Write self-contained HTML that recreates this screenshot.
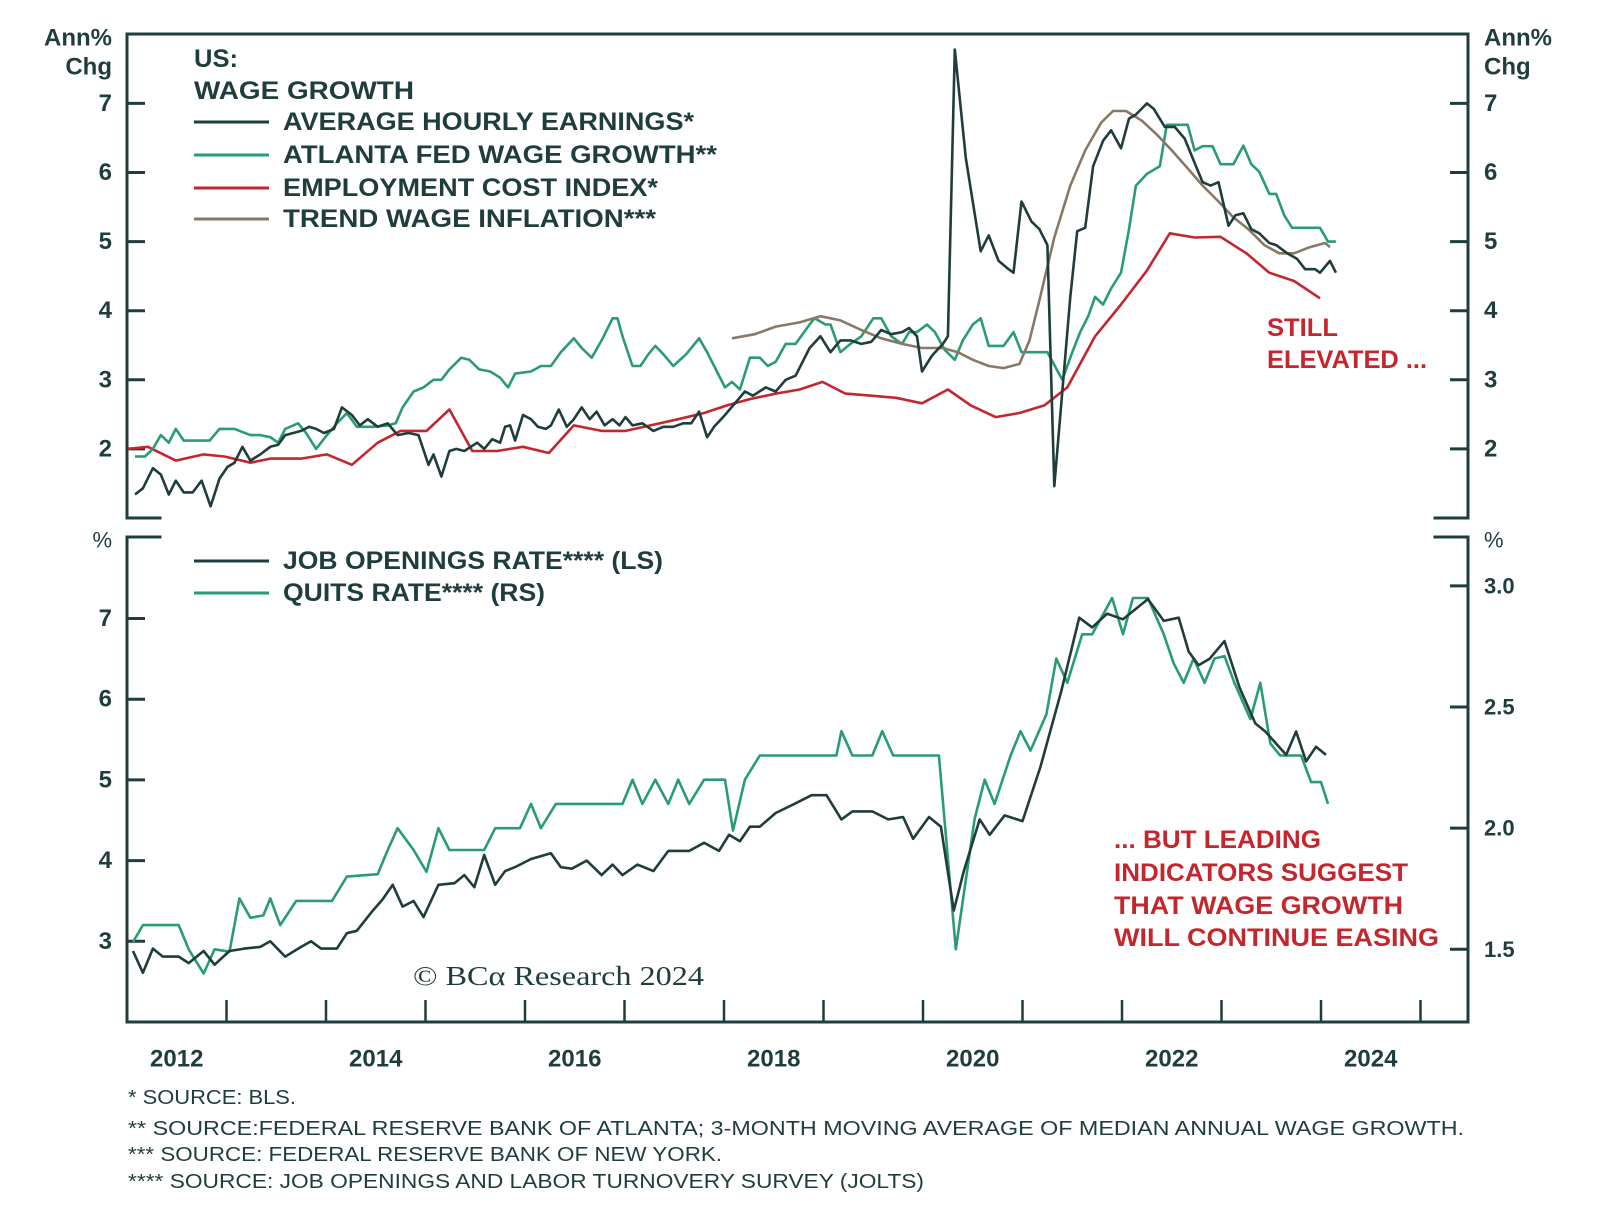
<!DOCTYPE html>
<html>
<head>
<meta charset="utf-8">
<style>
  html,body{margin:0;padding:0;background:#fff;}
  svg{display:block;}
  text{font-family:"Liberation Sans",sans-serif;fill:#1f3d3c;}
</style>
</head>
<body>
<svg id="chart" width="1600" height="1228" viewBox="0 0 1600 1228" xmlns="http://www.w3.org/2000/svg">
  <g id="axes"></g>
  <g id="series"></g>
  <g id="labels"></g>
</svg>
<script>
// ---------- DATA ----------
const ahePts = [[2012.08,1.34],[2012.16,1.43],[2012.26,1.72],[2012.34,1.63],[2012.42,1.34],[2012.49,1.54],[2012.57,1.37],[2012.66,1.37],[2012.75,1.54],[2012.84,1.17],[2012.93,1.57],[2013.01,1.74],[2013.08,1.80],[2013.16,2.03],[2013.24,1.83],[2013.34,1.92],[2013.44,2.03],[2013.52,2.06],[2013.59,2.20],[2013.67,2.23],[2013.75,2.26],[2013.83,2.32],[2013.90,2.29],[2013.98,2.23],[2014.08,2.29],[2014.16,2.60],[2014.26,2.49],[2014.34,2.34],[2014.42,2.43],[2014.52,2.32],[2014.62,2.37],[2014.72,2.20],[2014.83,2.23],[2014.93,2.20],[2015.03,1.77],[2015.08,1.92],[2015.16,1.60],[2015.24,1.97],[2015.31,2.00],[2015.39,1.97],[2015.52,2.09],[2015.59,2.00],[2015.67,2.14],[2015.75,2.09],[2015.80,2.32],[2015.85,2.34],[2015.90,2.12],[2015.98,2.49],[2016.06,2.43],[2016.13,2.32],[2016.21,2.29],[2016.26,2.34],[2016.34,2.57],[2016.42,2.32],[2016.49,2.43],[2016.57,2.60],[2016.65,2.43],[2016.72,2.54],[2016.80,2.34],[2016.88,2.43],[2016.95,2.34],[2017.01,2.46],[2017.08,2.34],[2017.18,2.37],[2017.29,2.26],[2017.39,2.32],[2017.49,2.32],[2017.59,2.37],[2017.67,2.37],[2017.75,2.54],[2017.83,2.17],[2017.90,2.32],[2018.01,2.49],[2018.11,2.66],[2018.21,2.83],[2018.29,2.77],[2018.42,2.89],[2018.52,2.83],[2018.62,3.00],[2018.72,3.06],[2018.86,3.46],[2018.97,3.63],[2019.07,3.40],[2019.17,3.57],[2019.27,3.57],[2019.38,3.52],[2019.48,3.55],[2019.58,3.72],[2019.68,3.66],[2019.79,3.69],[2019.86,3.75],[2019.94,3.63],[2019.99,3.12],[2020.09,3.35],[2020.20,3.52],[2020.25,3.63],[2020.32,7.78],[2020.43,6.21],[2020.58,4.86],[2020.66,5.09],[2020.76,4.72],[2020.86,4.60],[2020.91,4.55],[2020.99,5.58],[2021.09,5.29],[2021.17,5.18],[2021.25,4.95],[2021.32,1.46],[2021.48,4.20],[2021.55,5.15],[2021.63,5.20],[2021.71,6.09],[2021.81,6.46],[2021.89,6.61],[2021.99,6.35],[2022.07,6.78],[2022.14,6.84],[2022.25,7.00],[2022.32,6.92],[2022.43,6.66],[2022.53,6.66],[2022.63,6.49],[2022.71,6.21],[2022.81,5.86],[2022.89,5.81],[2022.97,5.86],[2023.07,5.23],[2023.14,5.38],[2023.22,5.41],[2023.30,5.18],[2023.38,5.12],[2023.48,4.98],[2023.55,4.95],[2023.66,4.83],[2023.76,4.75],[2023.84,4.60],[2023.94,4.60],[2023.99,4.55],[2024.09,4.72],[2024.15,4.55]];
const atlPts = [[2012.08,1.89],[2012.18,1.89],[2012.26,2.00],[2012.34,2.20],[2012.42,2.09],[2012.49,2.29],[2012.57,2.12],[2012.72,2.12],[2012.83,2.12],[2012.93,2.29],[2013.08,2.29],[2013.24,2.20],[2013.34,2.20],[2013.44,2.17],[2013.52,2.09],[2013.59,2.29],[2013.72,2.37],[2013.80,2.23],[2013.90,2.00],[2014.01,2.20],[2014.11,2.37],[2014.21,2.52],[2014.31,2.32],[2014.47,2.32],[2014.62,2.34],[2014.70,2.37],[2014.77,2.60],[2014.88,2.83],[2014.98,2.89],[2015.08,3.00],[2015.16,3.00],[2015.24,3.15],[2015.36,3.32],[2015.44,3.29],[2015.54,3.15],[2015.65,3.12],[2015.75,3.03],[2015.83,2.89],[2015.90,3.09],[2016.06,3.12],[2016.16,3.20],[2016.26,3.20],[2016.36,3.40],[2016.49,3.60],[2016.57,3.46],[2016.67,3.32],[2016.77,3.57],[2016.88,3.89],[2016.93,3.89],[2016.98,3.63],[2017.08,3.20],[2017.16,3.20],[2017.24,3.37],[2017.31,3.49],[2017.39,3.37],[2017.49,3.20],[2017.62,3.37],[2017.75,3.60],[2017.83,3.40],[2017.90,3.20],[2018.01,2.89],[2018.08,2.97],[2018.16,2.86],[2018.26,3.32],[2018.36,3.32],[2018.44,3.20],[2018.52,3.26],[2018.62,3.52],[2018.72,3.52],[2018.86,3.80],[2018.91,3.89],[2019.02,3.80],[2019.07,3.80],[2019.17,3.40],[2019.27,3.52],[2019.38,3.63],[2019.50,3.89],[2019.58,3.89],[2019.68,3.63],[2019.79,3.52],[2019.86,3.69],[2019.94,3.69],[2020.04,3.80],[2020.12,3.69],[2020.22,3.43],[2020.32,3.29],[2020.40,3.57],[2020.50,3.80],[2020.58,3.89],[2020.66,3.49],[2020.81,3.49],[2020.91,3.69],[2020.99,3.40],[2021.12,3.40],[2021.25,3.40],[2021.40,3.00],[2021.50,3.40],[2021.58,3.69],[2021.66,3.92],[2021.73,4.20],[2021.81,4.09],[2021.89,4.32],[2021.99,4.55],[2022.07,5.18],[2022.14,5.81],[2022.25,5.98],[2022.38,6.09],[2022.45,6.69],[2022.66,6.69],[2022.73,6.32],[2022.81,6.38],[2022.91,6.38],[2022.99,6.12],[2023.12,6.12],[2023.22,6.39],[2023.30,6.12],[2023.38,6.01],[2023.48,5.69],[2023.55,5.69],[2023.63,5.38],[2023.71,5.20],[2023.84,5.20],[2023.99,5.20],[2024.07,5.00],[2024.15,5.00]];
const eciPts = [[2012.01,2.00],[2012.21,2.03],[2012.49,1.83],[2012.77,1.92],[2012.98,1.89],[2013.24,1.80],[2013.44,1.86],[2013.75,1.86],[2014.01,1.92],[2014.26,1.77],[2014.52,2.09],[2014.75,2.26],[2015.01,2.26],[2015.24,2.57],[2015.47,1.97],[2015.72,1.97],[2015.98,2.03],[2016.24,1.94],[2016.49,2.34],[2016.77,2.26],[2017.01,2.26],[2017.26,2.34],[2017.54,2.43],[2017.80,2.52],[2018.03,2.63],[2018.26,2.72],[2018.52,2.80],[2018.76,2.86],[2018.99,2.97],[2019.22,2.80],[2019.48,2.77],[2019.73,2.74],[2019.99,2.66],[2020.25,2.86],[2020.48,2.63],[2020.73,2.46],[2020.97,2.52],[2021.22,2.63],[2021.45,2.89],[2021.73,3.63],[2021.99,4.09],[2022.25,4.58],[2022.48,5.12],[2022.73,5.06],[2022.99,5.07],[2023.25,4.83],[2023.48,4.55],[2023.73,4.43],[2023.99,4.18]];
const trendPts = [[2018.08,3.60],[2018.31,3.66],[2018.52,3.77],[2018.76,3.83],[2018.97,3.92],[2019.17,3.86],[2019.38,3.72],[2019.58,3.60],[2019.79,3.52],[2019.99,3.46],[2020.20,3.46],[2020.35,3.40],[2020.50,3.29],[2020.66,3.20],[2020.81,3.17],[2020.97,3.23],[2021.07,3.57],[2021.17,4.15],[2021.32,5.06],[2021.48,5.81],[2021.63,6.32],[2021.79,6.72],[2021.91,6.89],[2022.04,6.89],[2022.20,6.75],[2022.35,6.55],[2022.50,6.32],[2022.66,6.06],[2022.81,5.81],[2022.97,5.58],[2023.12,5.35],[2023.27,5.18],[2023.43,4.95],[2023.58,4.83],[2023.73,4.83],[2023.89,4.92],[2024.04,4.98],[2024.09,4.92]];
const jobPts = [[2012.06,2.88],[2012.16,2.61],[2012.26,2.91],[2012.36,2.81],[2012.52,2.81],[2012.62,2.73],[2012.77,2.88],[2012.88,2.71],[2013.03,2.88],[2013.18,2.91],[2013.34,2.93],[2013.44,3.00],[2013.59,2.81],[2013.75,2.93],[2013.85,3.00],[2013.95,2.91],[2014.11,2.91],[2014.21,3.10],[2014.31,3.13],[2014.47,3.38],[2014.57,3.52],[2014.67,3.70],[2014.77,3.43],[2014.88,3.50],[2014.98,3.30],[2015.13,3.70],[2015.29,3.72],[2015.39,3.82],[2015.49,3.67],[2015.59,4.07],[2015.70,3.70],[2015.80,3.87],[2015.90,3.92],[2016.06,4.02],[2016.26,4.09],[2016.36,3.92],[2016.47,3.90],[2016.62,4.00],[2016.77,3.82],[2016.88,3.95],[2016.98,3.82],[2017.13,3.95],[2017.29,3.87],[2017.44,4.12],[2017.65,4.12],[2017.80,4.22],[2017.95,4.12],[2018.05,4.32],[2018.16,4.24],[2018.26,4.42],[2018.36,4.42],[2018.52,4.59],[2018.72,4.71],[2018.88,4.81],[2019.03,4.81],[2019.18,4.51],[2019.29,4.61],[2019.49,4.61],[2019.65,4.51],[2019.80,4.54],[2019.90,4.27],[2020.06,4.54],[2020.18,4.42],[2020.31,3.38],[2020.41,3.87],[2020.57,4.51],[2020.67,4.32],[2020.82,4.56],[2021.00,4.49],[2021.18,5.16],[2021.39,6.10],[2021.57,7.01],[2021.70,6.89],[2021.85,7.06],[2022.01,6.99],[2022.11,7.09],[2022.26,7.24],[2022.42,6.97],[2022.57,7.01],[2022.67,6.59],[2022.77,6.42],[2022.88,6.50],[2023.03,6.72],[2023.18,6.15],[2023.34,5.70],[2023.44,5.60],[2023.65,5.31],[2023.75,5.60],[2023.85,5.23],[2023.95,5.41],[2024.05,5.31]];
const quitsPts = [[2012.06,1.53],[2012.16,1.60],[2012.52,1.60],[2012.62,1.50],[2012.77,1.40],[2012.88,1.50],[2013.03,1.49],[2013.13,1.71],[2013.24,1.63],[2013.37,1.64],[2013.44,1.71],[2013.54,1.60],[2013.70,1.70],[2014.06,1.70],[2014.21,1.80],[2014.52,1.81],[2014.62,1.91],[2014.72,2.00],[2014.88,1.91],[2015.01,1.82],[2015.13,2.00],[2015.24,1.91],[2015.39,1.91],[2015.59,1.91],[2015.70,2.00],[2015.95,2.00],[2016.06,2.10],[2016.16,2.00],[2016.31,2.10],[2016.98,2.10],[2017.08,2.20],[2017.18,2.10],[2017.31,2.20],[2017.44,2.10],[2017.54,2.20],[2017.65,2.10],[2017.80,2.20],[2018.01,2.20],[2018.09,1.99],[2018.21,2.20],[2018.36,2.30],[2019.13,2.30],[2019.18,2.40],[2019.29,2.30],[2019.49,2.30],[2019.59,2.40],[2019.70,2.30],[2020.16,2.30],[2020.33,1.50],[2020.52,2.04],[2020.62,2.20],[2020.72,2.10],[2020.88,2.30],[2020.98,2.40],[2021.08,2.32],[2021.24,2.47],[2021.34,2.70],[2021.45,2.60],[2021.60,2.80],[2021.70,2.80],[2021.90,2.95],[2022.01,2.80],[2022.11,2.95],[2022.26,2.95],[2022.42,2.80],[2022.52,2.68],[2022.62,2.60],[2022.72,2.70],[2022.83,2.60],[2022.93,2.70],[2023.03,2.71],[2023.13,2.60],[2023.29,2.45],[2023.39,2.60],[2023.49,2.35],[2023.59,2.30],[2023.80,2.30],[2023.90,2.19],[2024.00,2.19],[2024.07,2.10]];
const topTicks = [2,3,4,5,6,7];
const botLeftTicks = [3,4,5,6,7];
const botRightTicks = [1.5,2.0,2.5,3.0];
const yearLabels = [2012,2014,2016,2018,2020,2022,2024];
const yearTicks = [2013,2014,2015,2016,2017,2018,2019,2020,2021,2022,2023,2024,2025];

// ---------- SCALES ----------
const X0=127, X1=1468;
const xS = t => X0 + (t-2012)*99.5;
const yTop = v => 518 - (v-1)*69.1;
const yBL = v => 1022 - (v-2)*80.7;
const yBR = v => 1022 - (v-1.2)*242.3;
const NS='http://www.w3.org/2000/svg';
const DARK='#1f3d3c', GREEN='#2a9c72', RED='#c4262e', BROWN='#8a7867';

function mk(tag, attrs, parent){
  const e=document.createElementNS(NS,tag);
  for(const k in attrs) e.setAttribute(k,attrs[k]);
  parent.appendChild(e); return e;
}
const axes=document.getElementById('axes');
const series=document.getElementById('series');
const labels=document.getElementById('labels');

// axis frame
const frame=[
 ['top-panel-top-border',X0,34,X1,34],['top-panel-left-axis',X0,34,X0,518],['top-panel-right-axis',X1,34,X1,518],
 ['top-panel-left-stub',X0,518,160,518],['top-panel-right-stub',1435,518,X1,518],
 ['bottom-panel-left-axis',X0,537,X0,1022],['bottom-panel-right-axis',X1,537,X1,1022],
 ['bottom-panel-left-stub',X0,537,160,537],['bottom-panel-right-stub',1435,537,X1,537],
 ['x-axis-line',X0,1022,X1,1022]];
frame.forEach(f=>{
  const l=mk('line',{x1:f[1],y1:f[2],x2:f[3],y2:f[4],stroke:DARK,'stroke-width':3,'stroke-linecap':'square'},axes);
  
  
});
function txt(s,x,y,attrs,name,parent){
  const t=mk('text',Object.assign({x:x,y:y},attrs||{}),parent||labels);
  t.textContent=s;
  
  
  return t;
}
topTicks.forEach(v=>{
  const y=yTop(v);
  const a=mk('line',{x1:X0,y1:y,x2:X0+18,y2:y,stroke:DARK,'stroke-width':3},axes);
  
  
  const b=mk('line',{x1:X1-18,y1:y,x2:X1,y2:y,stroke:DARK,'stroke-width':3},axes);
  
  
  txt(String(v),112,y,{'text-anchor':'end','dominant-baseline':'central','font-size':24,'font-weight':'bold'},'top-left-tick-label');
  txt(String(v),1484,y,{'dominant-baseline':'central','font-size':24,'font-weight':'bold'},'top-right-tick-label');
});
botLeftTicks.forEach(v=>{
  const y=yBL(v);
  const a=mk('line',{x1:X0,y1:y,x2:X0+18,y2:y,stroke:DARK,'stroke-width':3},axes);
  
  
  txt(String(v),112,y,{'text-anchor':'end','dominant-baseline':'central','font-size':24,'font-weight':'bold'},'bottom-left-tick-label');
});
botRightTicks.forEach(v=>{
  const y=yBR(v);
  const b=mk('line',{x1:X1-18,y1:y,x2:X1,y2:y,stroke:DARK,'stroke-width':3},axes);
  
  
  txt(v.toFixed(1),1484,y,{'dominant-baseline':'central','font-size':22,'font-weight':'bold'},'bottom-right-tick-label');
});
yearTicks.forEach(t=>{
  const x=xS(t);
  const l=mk('line',{x1:x,y1:1000,x2:x,y2:1022,stroke:DARK,'stroke-width':2.5},axes);
  
  
});
yearLabels.forEach(t=>{
  txt(String(t),xS(t+0.5),1059,{'text-anchor':'middle','dominant-baseline':'central','font-size':24,'font-weight':'bold'},'x-tick-label');
});

// series
function line(pts,ys,color,name,w){
  const d=pts.map((p,i)=>(i?'L':'M')+xS(p[0]).toFixed(1)+' '+ys(p[1]).toFixed(1)).join(' ');
  const p=mk('path',{d:d,fill:'none',stroke:color,'stroke-width':w||2.6,'stroke-linejoin':'round'},series);
  
  
}
line(eciPts,yTop,RED,'employment-cost-index-line');
line(atlPts,yTop,GREEN,'atlanta-fed-wage-line');
line(trendPts,yTop,BROWN,'trend-wage-inflation-line');
line(ahePts,yTop,DARK,'average-hourly-earnings-line');
line(quitsPts,yBR,GREEN,'quits-rate-line');
line(jobPts,yBL,DARK,'job-openings-rate-line');

// unit labels
const B={'font-size':24,'font-weight':'bold'};
txt('Ann%',112,38,Object.assign({'text-anchor':'end','dominant-baseline':'central'},B),'left-unit-ann');
txt('Chg',112,67,Object.assign({'text-anchor':'end','dominant-baseline':'central'},B),'left-unit-chg');
txt('Ann%',1484,38,Object.assign({'dominant-baseline':'central'},B),'right-unit-ann');
txt('Chg',1484,67,Object.assign({'dominant-baseline':'central'},B),'right-unit-chg');
txt('%',112,540,{'text-anchor':'end','dominant-baseline':'central','font-size':22},'bottom-left-unit');
txt('%',1484,540,{'dominant-baseline':'central','font-size':22},'bottom-right-unit');

// legends
const L={'dominant-baseline':'central','font-size':25,'font-weight':'bold','lengthAdjust':'spacingAndGlyphs'};
txt('US:',194,59,Object.assign({},L,{textLength:44}),'legend-title-us');
txt('WAGE GROWTH',194,91,Object.assign({},L,{textLength:220}),'legend-title');
const legTop=[['AVERAGE HOURLY EARNINGS*',DARK,122,411],['ATLANTA FED WAGE GROWTH**',GREEN,155,434],['EMPLOYMENT COST INDEX*',RED,188,375],['TREND WAGE INFLATION***',BROWN,219,373],
 ['JOB OPENINGS RATE**** (LS)',DARK,561,380],['QUITS RATE**** (RS)',GREEN,593,262]];
legTop.forEach(e=>{
  const l=mk('line',{x1:194,y1:e[2],x2:269,y2:e[2],stroke:e[1],'stroke-width':3},labels);
  
  
  txt(e[0],283,e[2],Object.assign({},L,{textLength:e[3]}),'legend-entry');
});

// annotations
const R={'dominant-baseline':'central','font-size':25,'font-weight':'bold','lengthAdjust':'spacingAndGlyphs',style:'fill:'+RED};
txt('STILL',1267,328,Object.assign({},R,{textLength:71}),'annotation-still');
txt('ELEVATED ...',1267,360,Object.assign({},R,{textLength:160}),'annotation-elevated');
[['... BUT LEADING',840,207],['INDICATORS SUGGEST',873,294],['THAT WAGE GROWTH',906,289],['WILL CONTINUE EASING',938,325]].forEach(a=>{
  txt(a[0],1114,a[1],Object.assign({},R,{textLength:a[2]}),'annotation-leading-indicators');
});
txt('© BCα Research 2024',413,976,{'dominant-baseline':'central','font-size':27,'textLength':291,'lengthAdjust':'spacingAndGlyphs',style:'font-family:"Liberation Serif",serif'},'copyright');

// footnotes
const F={'dominant-baseline':'central','font-size':20,'lengthAdjust':'spacingAndGlyphs'};
[['* SOURCE: BLS.',1098,168],['**  SOURCE:FEDERAL RESERVE BANK OF ATLANTA; 3-MONTH MOVING AVERAGE OF MEDIAN ANNUAL WAGE GROWTH.',1129,1336],['*** SOURCE: FEDERAL RESERVE BANK OF NEW YORK.',1155,594],['**** SOURCE: JOB OPENINGS AND LABOR TURNOVERY SURVEY (JOLTS)',1182,796]].forEach(f=>{
  txt(f[0],128,f[1],Object.assign({},F,{textLength:f[2]}),'footnote');
});
</script>
</body>
</html>
